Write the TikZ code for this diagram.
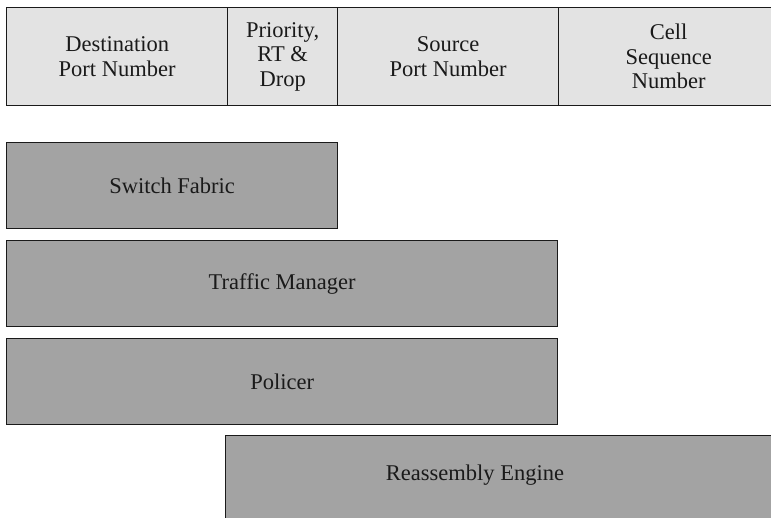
\documentclass[tikz,border=0pt]{standalone}
\usepackage{fontspec}
\newfontfamily\labelfont{Liberation Serif}
\definecolor{hdrfill}{HTML}{E3E3E3}
\definecolor{blkfill}{HTML}{A3A3A3}
\definecolor{inkc}{HTML}{1A1A1A}
\tikzset{
  lbl/.style={text=inkc, font=\labelfont\fontsize{22.5}{24.5}\selectfont},
  field/.style={lbl, draw=inkc, line width=1.3pt, fill=hdrfill, anchor=north west,
    inner sep=0pt, align=center, minimum height=98pt},
  block/.style={lbl, draw=inkc, line width=1.3pt, fill=blkfill, anchor=north west,
    inner sep=0pt, minimum height=86pt}
}
\begin{document}
\begin{tikzpicture}[x=1pt, y=-1pt]
\useasboundingbox (0,0) rectangle (771,517);
\clip (0,0) rectangle (771,517);
% cell header fields
\node[field, minimum width=221pt] (dst) at (6,7) {Destination\\Port Number};
\node[field, minimum width=110pt] (pri) at (227,7) {Priority,\\RT \&\\Drop};
\node[field, minimum width=221pt] (src) at (337,7) {Source\\Port Number};
\node[field, minimum width=220pt] (seq) at (558,7) {Cell\\Sequence\\Number};
% processing blocks
\node[block, minimum width=331pt] (sf) at (6,142) {Switch Fabric};
\node[block, minimum width=551pt] (tm) at (6,240) {Traffic Manager};
\node[block, minimum width=551pt] (pol) at (6,338) {Policer};
\node[block, minimum width=560pt] (re) at (225,435) {};
\node[lbl] (relbl) at (475,475) {Reassembly Engine};
\end{tikzpicture}
\end{document}
